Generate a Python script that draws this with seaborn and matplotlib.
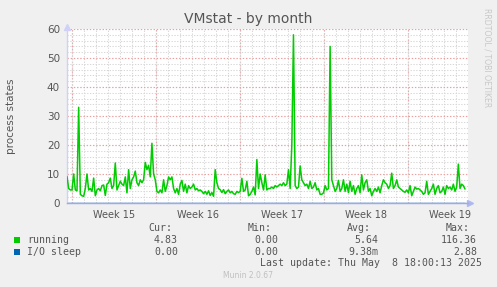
import numpy as np
import pandas as pd
import matplotlib
matplotlib.use("Agg")
import matplotlib.pyplot as plt
from matplotlib.ticker import MultipleLocator
import seaborn as sns

# ---------------- data ----------------
title = "VMstat - by month"
ylabel = "process states"
week_labels = ["Week 15", "Week 16", "Week 17", "Week 18", "Week 19"]
week_starts = [0, 7, 14, 21, 28]          # days
sample_step_days = 5 / 36                  # ~3.3 h between samples
first_sample_day = -0.444

running = [
    9.1, 5, 4.5, 4.5, 10, 4.5, 4.2, 33, 3, 2.5, 2.3, 5, 10, 4.5, 5, 4, 8.6, 2.5, 4.5, 5,
    4.2, 6, 6.2, 2.6, 6.5, 7, 8.6, 5, 6, 13.8, 4.5, 6, 7.5, 6.5, 6, 9, 3.5, 11.5, 5, 8,
    9, 11, 7, 6, 8, 7, 8, 14, 11.5, 13, 9, 20.6, 10, 8, 4, 3.5, 4.5, 3.5, 8, 4,
    6, 9, 8, 9, 5, 3.5, 5, 3, 6.5, 7.8, 4, 6.5, 3.5, 6, 5, 5.5, 6.5, 4.5, 5, 4.2,
    4.5, 4, 3.2, 4, 3, 4.2, 2.6, 3.6, 2.3, 11.5, 7, 5, 4.6, 3.6, 4.6, 3.2, 4, 4.5, 3.5, 4,
    3.2, 3, 4, 3.6, 4, 8.5, 4, 4.5, 7.5, 2.5, 3,
    4, 5.5, 2.8, 15, 5, 10, 7, 4.5, 9.7, 4.5, 5, 5, 5.5, 5, 6, 5.5, 6, 6.5, 6, 7,
    6, 6.5, 11.5, 5, 20, 58, 6, 5, 5.5, 12.8, 8, 7, 6, 6.5, 5, 7.5, 5, 5.5, 7, 4.5,
    5, 3, 3, 3.5, 6, 4.5, 5, 54, 8, 6, 4, 5, 7.8, 4, 5, 8, 4, 6.5, 3.6, 7.5,
    4, 6, 3, 5, 6, 3.5, 9.7, 4.5, 7, 8, 4, 5, 2.5, 4, 5, 4, 5.5, 3.5, 6, 8,
    7, 6.5, 5, 6, 10.3, 5, 6, 8, 5.5, 5, 4.5, 4, 3.7, 4.5, 3.5, 6, 2.5, 4, 5.5, 4.8,
    5, 4.5, 4, 3, 3.5, 7.5, 3, 4, 5, 6.5, 3, 5, 6, 3.5, 4, 5.5, 3, 6, 5, 5.5,
    4.5, 6.5, 4, 5.5, 13.4, 5, 6.5, 6, 4.8,
]
io_sleep = [0.0] * len(running)

legend_names = ["running", "I/O sleep"]
legend_colors = ["#00CC00", "#0066B3"]
cur_vals = ["4.83", "0.00"]
min_vals = ["0.00", "0.00"]
avg_vals = ["5.64", "9.38m"]
max_vals = ["116.36", "2.88"]
last_update = "Last update: Thu May  8 18:00:13 2025"
footer = "Munin 2.0.67"
side_text = "RRDTOOL / TOBI OETIKER"

days = first_sample_day + np.arange(len(running)) * sample_step_days
df = pd.DataFrame({"day": days, "running": running, "io": io_sleep})

# ---------------- figure ----------------
sns.set_style("white")
plt.rcParams["font.family"] = ["DejaVu Sans"]
BG = "#F0F0F0"
fig = plt.figure(figsize=(4.97, 2.87), dpi=100, facecolor=BG)
ax = fig.add_axes([67 / 497, 1 - 203 / 287, (468 - 67) / 497, (203 - 29) / 287])
ax.set_facecolor("white")

ax.set_xlim(-0.444, 33.0)
ax.set_ylim(0, 60)

# grids
ax.yaxis.set_major_locator(MultipleLocator(10))
ax.yaxis.set_minor_locator(MultipleLocator(2))
ax.xaxis.set_minor_locator(MultipleLocator(1))
ax.set_xticks([w + 3.5 for w in week_starts])
ax.set_xticklabels(week_labels)

dot = (0, (1.2, 1.5))
ax.grid(which="minor", axis="both", color="#D6D6D6", linestyle=dot, linewidth=0.75, zorder=0)
ax.grid(which="major", axis="y", color="#EBA0A0", linestyle=dot, linewidth=0.85, zorder=0.5)
ax.grid(which="major", axis="x", visible=False)
for w in week_starts:
    ax.axvline(w, color="#EBA0A0", linestyle=dot, linewidth=0.85, zorder=0.5)

sns.lineplot(data=df, x="day", y="io", ax=ax, color=legend_colors[1], linewidth=1.0, zorder=2)
sns.lineplot(data=df, x="day", y="running", ax=ax, color=legend_colors[0], linewidth=1.1, zorder=3)

ax.set_xlabel("")
ax.set_ylabel(ylabel, fontsize=7.5, color="#555555", labelpad=22)

for s in ["top", "right"]:
    ax.spines[s].set_visible(False)
ax.spines["left"].set_color("#D0D0F8")
ax.spines["left"].set_linewidth(1.0)
ax.spines["bottom"].set_color("#A0A8E8")
ax.spines["bottom"].set_linewidth(1.0)

ax.tick_params(axis="x", which="major", length=0, labelsize=7, labelcolor="#555555", pad=5)
ax.tick_params(axis="x", which="minor", length=2, color="#D08080", direction="out")
ax.tick_params(axis="y", which="major", length=3, color="#909090", labelsize=7.5,
               labelcolor="#555555", pad=2, direction="out")
ax.tick_params(axis="y", which="minor", length=0)

# arrows on axes
ax.plot([1.004], [0], marker=">", color="#B0B8F0", markersize=4, transform=ax.transAxes, clip_on=False)
ax.plot([0], [1.01], marker="^", color="#D0D0F8", markersize=4, transform=ax.transAxes, clip_on=False)

# title and side text
fig.text(248 / 497, 1 - 19 / 287, title, ha="center", va="center", fontsize=10, color="#555555")
fig.text(487 / 497, 1 - 58 / 287, side_text, ha="center", va="center", rotation=270,
         fontsize=5.6, color="#C8C8C8")

# legend block
mono = "DejaVu Sans Mono"
fs = 7.1
def yf(py):
    return 1 - py / 287

hdr_y = yf(228)
cols_right = [178, 278, 378, 477]
headers = ["Cur:", "Min:", "Avg:", "Max:"]
hdr_right = [172, 272, 371, 470]
for h, xr in zip(headers, hdr_right):
    fig.text(xr / 497, hdr_y, h, ha="right", va="center", family=mono, fontsize=fs, color="#555555")

row_ys = [240, 252]
for i, (name, col) in enumerate(zip(legend_names, legend_colors)):
    y = yf(row_ys[i])
    fig.patches.append(plt.Rectangle((14 / 497, y - 3 / 287), 6 / 497, 6 / 287,
                                     transform=fig.transFigure, facecolor=col, edgecolor="none"))
    fig.text(27 / 497, y, name, ha="left", va="center", family=mono, fontsize=fs, color="#555555")
    for vals, xr in zip([cur_vals, min_vals, avg_vals, max_vals], cols_right):
        fig.text(xr / 497, y, vals[i], ha="right", va="center", family=mono, fontsize=fs, color="#555555")

fig.text(482 / 497, yf(263.5), last_update, ha="right", va="center", family=mono, fontsize=fs, color="#555555")
fig.text(248 / 497, yf(276), footer, ha="center", va="center", fontsize=5.5, color="#C0C0C0")

fig.savefig("out.png", dpi=100, facecolor=BG)
